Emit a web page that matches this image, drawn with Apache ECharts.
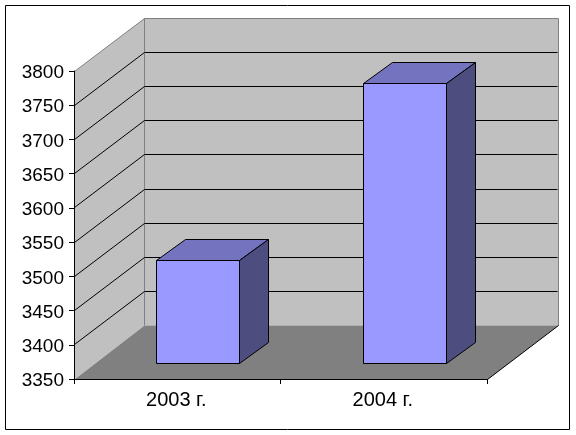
<!DOCTYPE html>
<html><head><meta charset="utf-8">
<style>html,body{margin:0;padding:0;background:#fff}#c{width:576px;height:435px}</style>
<script src="https://cdn.jsdelivr.net/npm/echarts@6/dist/echarts.min.js"></script>
</head><body><div id="c"></div>
<script>
const categories = ['2003 г.', '2004 г.'];
const values = [3500, 3758];
const axisMin = 3350;
const axisMax = 3800;
const axisStep = 50;
const gridValues = [3400, 3450, 3500, 3550, 3600, 3650, 3700, 3750];

const DX = 70, DY = -53;          // full depth offset of the 3D box
const BAR_NEAR = 0.3, BAR_FAR = 0.71; // bar position along the depth
const BAR_FRACTION = 0.4;         // bar width / category band
const crisp = v => Math.floor(v) + 0.5;
const poly = (pts, style, z2) => ({type: 'polygon', shape: {points: pts}, style, z2: z2 || 0, silent: true});
const line = (pts, stroke, z2) => ({type: 'polyline', shape: {points: pts}, style: {stroke, lineWidth: 1, fill: null}, z2: z2 || 0, silent: true});

function renderWalls(params) {
  const c = params.coordSys;
  const L = crisp(c.x), R = crisp(c.x + c.width), T = crisp(c.y), B = crisp(c.y + c.height);
  const wall = '#C0C0C0', edge = '#808080';
  const bx = R + DX + 1, by = B + DY - 1, tx = L + DX, ty = T + DY;
  return {type: 'group', children: [
    poly([[L, T], [tx, ty], [tx, by], [L, B]], {fill: wall}, 1),
    poly([[tx, ty], [bx, ty], [bx, by], [tx, by]], {fill: wall}, 1),
    poly([[L, B], [tx, by], [bx, by], [R, B]], {fill: '#808080'}, 2),
    line([[L, T], [tx, ty], [bx, ty], [bx, by]], edge, 3),
    line([[tx, ty], [tx, by]], edge, 3),
    line([[R, B], [bx, by]], '#000', 3)
  ]};
}
function renderGrid(params, api) {
  const c = params.coordSys;
  const y = crisp(api.coord([0, api.value(1)])[1]);
  const L = crisp(c.x), R = crisp(c.x + c.width);
  return line([[L, y], [L + DX, y + DY], [R + DX, y + DY]], '#000');
}
function renderBar(params, api) {
  const p = api.coord([api.value(0), api.value(1)]);
  const base = api.coord([api.value(0), axisMin]);
  const w = api.size([1, 0])[0] * BAR_FRACTION;
  const x0 = crisp(p[0] - w / 2 + DX * BAR_NEAR), x1 = x0 + Math.round(w);
  const yT = crisp(p[1] + DY * BAR_NEAR), yB = crisp(base[1] + DY * BAR_NEAR);
  const ox = Math.round(DX * (BAR_FAR - BAR_NEAR)), oy = Math.trunc(DY * (BAR_FAR - BAR_NEAR));
  const s = fill => ({fill, stroke: '#000', lineWidth: 1, lineJoin: 'miter'});
  return {type: 'group', children: [
    poly([[x0, yB], [x1, yB], [x1, yT], [x0, yT]], s('#9999FF'), 3),
    poly([[x0, yT], [x0 + ox, yT + oy], [x1 + ox, yT + oy], [x1, yT]], s('#7373BF'), 2),
    poly([[x1, yT], [x1 + ox, yT + oy], [x1 + ox, yB + oy], [x1, yB]], s('#4D4D80'), 2)
  ]};
}
const chart = echarts.init(document.getElementById('c'), null, {renderer: 'canvas'});
const font = {color: '#000', fontFamily: 'Liberation Sans'};
chart.setOption({
  animation: false,
  backgroundColor: '#fff',
  grid: {left: 74, top: 71, width: 413, height: 308, containLabel: false},
  xAxis: {
    type: 'category', data: categories, z: 10,
    axisLine: {lineStyle: {color: '#000', width: 1}},
    axisTick: {show: true, length: 5, lineStyle: {color: '#000'}},
    axisLabel: Object.assign({margin: 11, interval: 0, fontSize: 20, padding: [0, 2, 0, 0]}, font),
    splitLine: {show: false}
  },
  yAxis: {
    type: 'value', min: axisMin, max: axisMax, interval: axisStep, z: 10,
    axisLine: {show: true, lineStyle: {color: '#000', width: 1}},
    axisTick: {show: true, length: 5, lineStyle: {color: '#000'}},
    axisLabel: Object.assign({margin: 10, fontSize: 19, verticalAlign: 'top', lineHeight: 4, formatter: v => String(v)}, font),
    splitLine: {show: false}
  },
  graphic: [{type: 'rect', shape: {x: 5.5, y: 5.5, width: 564, height: 424}, style: {fill: null, stroke: '#000', lineWidth: 1}, silent: true}],
  series: [
    {type: 'custom', z: 1, silent: true, renderItem: renderWalls, data: [[0, axisMin]]},
    {type: 'custom', z: 2, silent: true, renderItem: renderGrid, data: gridValues.map(v => [0, v])},
    {type: 'custom', z: 3, silent: true, renderItem: renderBar, data: values.map((v, i) => [i, v])}
  ]
});
</script></body></html>
